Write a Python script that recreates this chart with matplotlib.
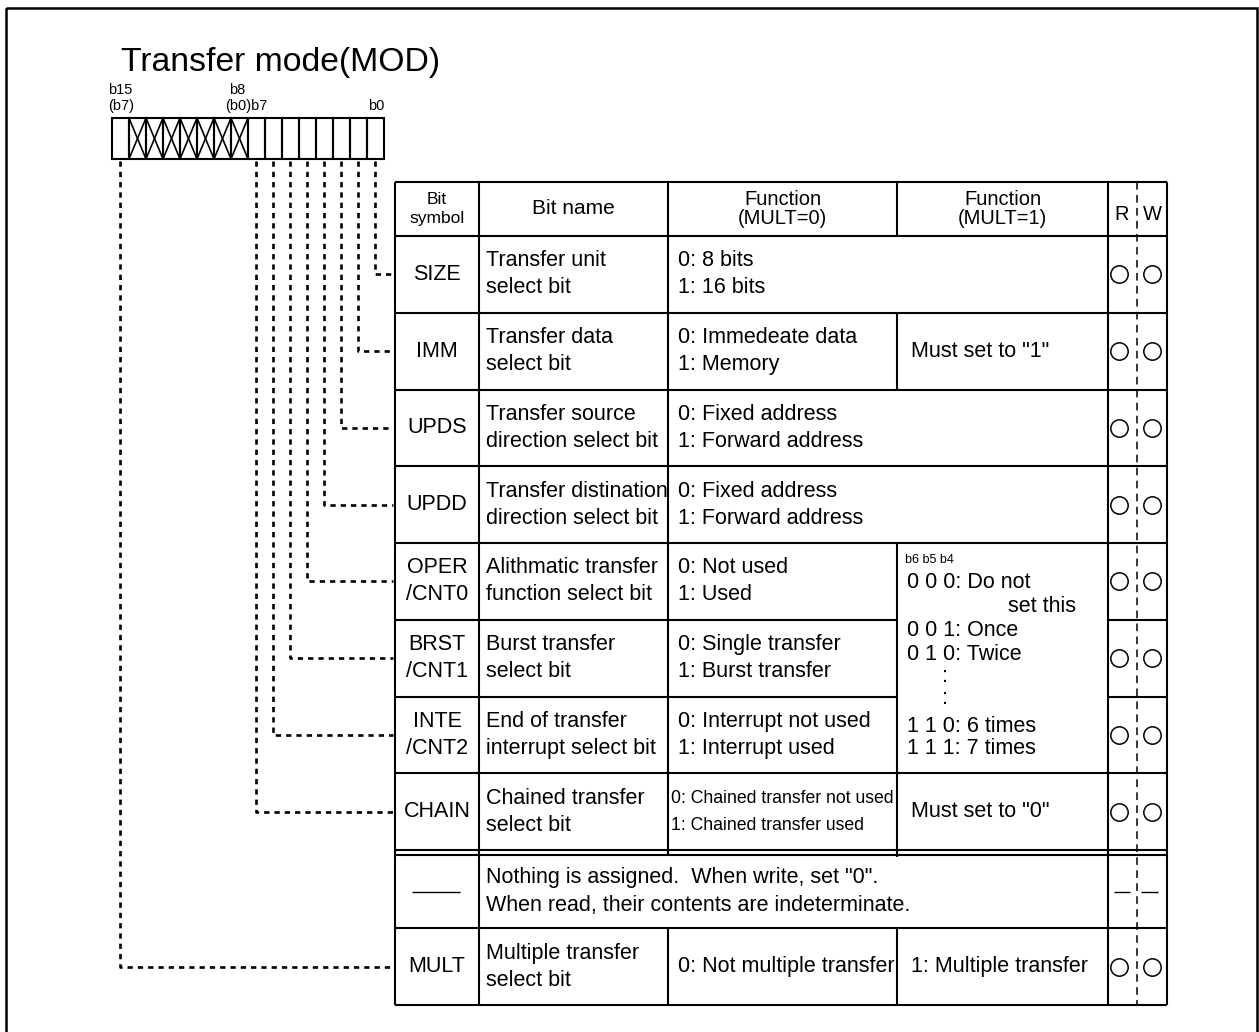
import matplotlib

matplotlib.use("Agg")

import matplotlib.pyplot as plt

plt.rcParams["font.family"] = ["Liberation Sans", "DejaVu Sans"]

# register content
title = "Transfer mode(MOD)"
symbols = ["SIZE", "IMM", "UPDS", "UPDD", "OPER\n/CNT0", "BRST\n/CNT1",
           "INTE\n/CNT2", "CHAIN", "", "MULT"]
names = ["Transfer unit\nselect bit", "Transfer data\nselect bit",
         "Transfer source\ndirection select bit",
         "Transfer distination\ndirection select bit",
         "Alithmatic transfer\nfunction select bit", "Burst transfer\nselect bit",
         "End of transfer\ninterrupt select bit", "Chained transfer\nselect bit",
         "Nothing is assigned.  When write, set \"0\".\n"
         "When read, their contents are indeterminate.",
         "Multiple transfer\nselect bit"]
func_mult0 = ["0: 8 bits\n1: 16 bits", "0: Immedeate data\n1: Memory",
              "0: Fixed address\n1: Forward address",
              "0: Fixed address\n1: Forward address",
              "0: Not used\n1: Used", "0: Single transfer\n1: Burst transfer",
              "0: Interrupt not used\n1: Interrupt used",
              "0: Chained transfer not used\n1: Chained transfer used",
              None, "0: Not multiple transfer"]
func_mult1 = [None, 'Must set to "1"', None, None, "count", "count", "count",
              'Must set to "0"', None, "1: Multiple transfer"]
count_lines = ["0 0 0: Do not", "set this", "0 0 1: Once", "0 1 0: Twice",
               ":", ":", "1 1 0: 6 times", "1 1 1: 7 times"]
rw = ["oo", "oo", "oo", "oo", "oo", "oo", "oo", "oo", "--", "oo"]
bit_of_row = [0, 1, 2, 3, 4, 5, 6, 7, None, 15]
reserved_bits = [14, 13, 12, 11, 10, 9, 8]

# layout (pixels)
W, H = 1259, 1032
REG_L, REG_T, REG_B, CELL = 112, 118, 159, 17
COLS = [395, 479, 668, 897, 1108, 1167]
RW_MID = 1137
TAB_T, HEAD_B = 182, 236
edges = [HEAD_B + i * 76.75 for i in range(9)] + [855, 928, 1005]
row_top = edges[:8] + [855, 928]
row_bot = edges[1:9] + [928, 1005]
LW = 1.5
FS = 15.5


def hline(ax, y, x0, x1, lw=LW):
    ax.plot([x0, x1], [y, y], color="black", lw=lw, solid_capstyle="butt")


def vline(ax, x, y0, y1, lw=LW):
    ax.plot([x, x], [y0, y1], color="black", lw=lw, solid_capstyle="butt")


def two_lines(ax, x, yc, text, ha="left", fs=FS, gap=13.5, **kw):
    lines = text.split("\n")
    if len(lines) == 1:
        ax.text(x, yc, lines[0], ha=ha, va="center", fontsize=fs, **kw)
        return
    ax.text(x, yc - gap, lines[0], ha=ha, va="center", fontsize=fs, **kw)
    ax.text(x, yc + gap, lines[1], ha=ha, va="center", fontsize=fs, **kw)


fig = plt.figure(figsize=(W / 100, H / 100), dpi=100)
ax = fig.add_axes([0, 0, 1, 1])
ax.set_xlim(0, W)
ax.set_ylim(H, 0)
ax.set_axis_off()

# outer frame
ax.add_patch(plt.Rectangle((6, 8), 1251, 1060, fill=False, lw=1.8, edgecolor="black"))

ax.text(121, 71, title, fontsize=24.3, ha="left", va="baseline")

# register box
for i in range(16):
    x0 = REG_L + i * CELL
    ax.add_patch(plt.Rectangle((x0, REG_T), CELL, REG_B - REG_T, fill=False, lw=1.5))
for b in reserved_bits:
    x0 = REG_L + (15 - b) * CELL
    ax.plot([x0, x0 + CELL], [REG_T, REG_B], color="black", lw=1.2)
    ax.plot([x0, x0 + CELL], [REG_B, REG_T], color="black", lw=1.2)
ax.text(108, 90, "b15", fontsize=10.5, va="center")
ax.text(108, 106, "(b7)", fontsize=10.5, va="center")
ax.text(229, 90, "b8", fontsize=10.5, va="center")
ax.text(225, 106, "(b0)b7", fontsize=10.5, va="center")
ax.text(368, 106, "b0", fontsize=10.5, va="center")

# table grid
hline(ax, TAB_T, COLS[0], COLS[-1])
hline(ax, HEAD_B, COLS[0], COLS[-1])
vline(ax, COLS[0], TAB_T, edges[-1])
vline(ax, COLS[1], TAB_T, edges[-1])
vline(ax, COLS[4], TAB_T, edges[-1])
vline(ax, COLS[5], TAB_T, edges[-1])
vline(ax, COLS[2], TAB_T, 855)
vline(ax, COLS[2], 928, edges[-1])
vline(ax, COLS[3], TAB_T, HEAD_B)
vline(ax, COLS[3], edges[1], edges[2])
vline(ax, COLS[3], edges[4], 857)
vline(ax, COLS[3], 928, edges[-1])
for i in range(1, 8):
    if i in (5, 6):
        hline(ax, edges[i], COLS[0], COLS[3])
        hline(ax, edges[i], COLS[4], COLS[5])
    else:
        hline(ax, edges[i], COLS[0], COLS[5])
hline(ax, 850, COLS[0], COLS[5])
hline(ax, 855, COLS[0], COLS[5])
hline(ax, 928, COLS[0], COLS[5])
hline(ax, edges[-1], COLS[0], COLS[5])
ax.plot([RW_MID, RW_MID], [TAB_T, edges[-1]], color="black", lw=1.1,
        linestyle=(0, (5, 3.5)))

# header
hy = (TAB_T + HEAD_B) / 2
two_lines(ax, (COLS[0] + COLS[1]) / 2, hy, "Bit\nsymbol", ha="center", fs=12.5, gap=10)
ax.text((COLS[1] + COLS[2]) / 2, hy, "Bit name", ha="center", va="center", fontsize=FS - 0.5)
two_lines(ax, (COLS[2] + COLS[3]) / 2, hy, "Function\n(MULT=0)", ha="center", fs=FS - 1, gap=9.5)
two_lines(ax, (COLS[3] + COLS[4]) / 2, hy, "Function\n(MULT=1)", ha="center", fs=FS - 1, gap=9.5)
ax.text(1122, hy + 5, "R", ha="center", va="center", fontsize=FS - 1)
ax.text(1152, hy + 5, "W", ha="center", va="center", fontsize=FS - 1)

# rows
for r in range(10):
    yc = (row_top[r] + row_bot[r]) / 2
    if symbols[r]:
        two_lines(ax, (COLS[0] + COLS[1]) / 2, yc, symbols[r], ha="center")
    else:
        hline(ax, yc, 412, 460, lw=1.0)
    two_lines(ax, 486, yc, names[r])
    if func_mult0[r]:
        if r == 7:
            two_lines(ax, 671, yc, func_mult0[r], fs=12.7)
        else:
            two_lines(ax, 678, yc, func_mult0[r])
    f1 = func_mult1[r]
    if f1 and f1 != "count":
        ax.text(911, yc, f1, ha="left", va="center", fontsize=FS)
    if rw[r] == "oo":
        ax.plot([1119, 1152], [yc, yc], "o", mfc="none", mec="black", ms=12.5, mew=1.1)
    else:
        hline(ax, yc, 1114, 1130, lw=1.0)
        hline(ax, yc, 1141, 1158, lw=1.0)

    bit = bit_of_row[r]
    if bit is not None:
        bx = REG_L + (15 - bit) * CELL + CELL / 2
        ax.plot([bx, bx, COLS[0] - 2], [REG_B + 2, yc, yc], color="black", lw=1.9,
                linestyle=(0, (2.0, 1.9)))

# counter field in the MULT=1 column
ax.text(905, 560, "b6 b5 b4", fontsize=9, ha="left", va="center")
count_y = [582, 606, 630, 654, 679, 702, 726, 749]
for line, y in zip(count_lines, count_y):
    if line == "set this":
        ax.text(1008, y, line, fontsize=FS, ha="left", va="center")
    elif line == ":":
        ax.text(945, y - 3, line, fontsize=FS, ha="center", va="center")
    else:
        ax.text(907, y, line, fontsize=FS, ha="left", va="center")

fig.savefig("out.png", dpi=100)
